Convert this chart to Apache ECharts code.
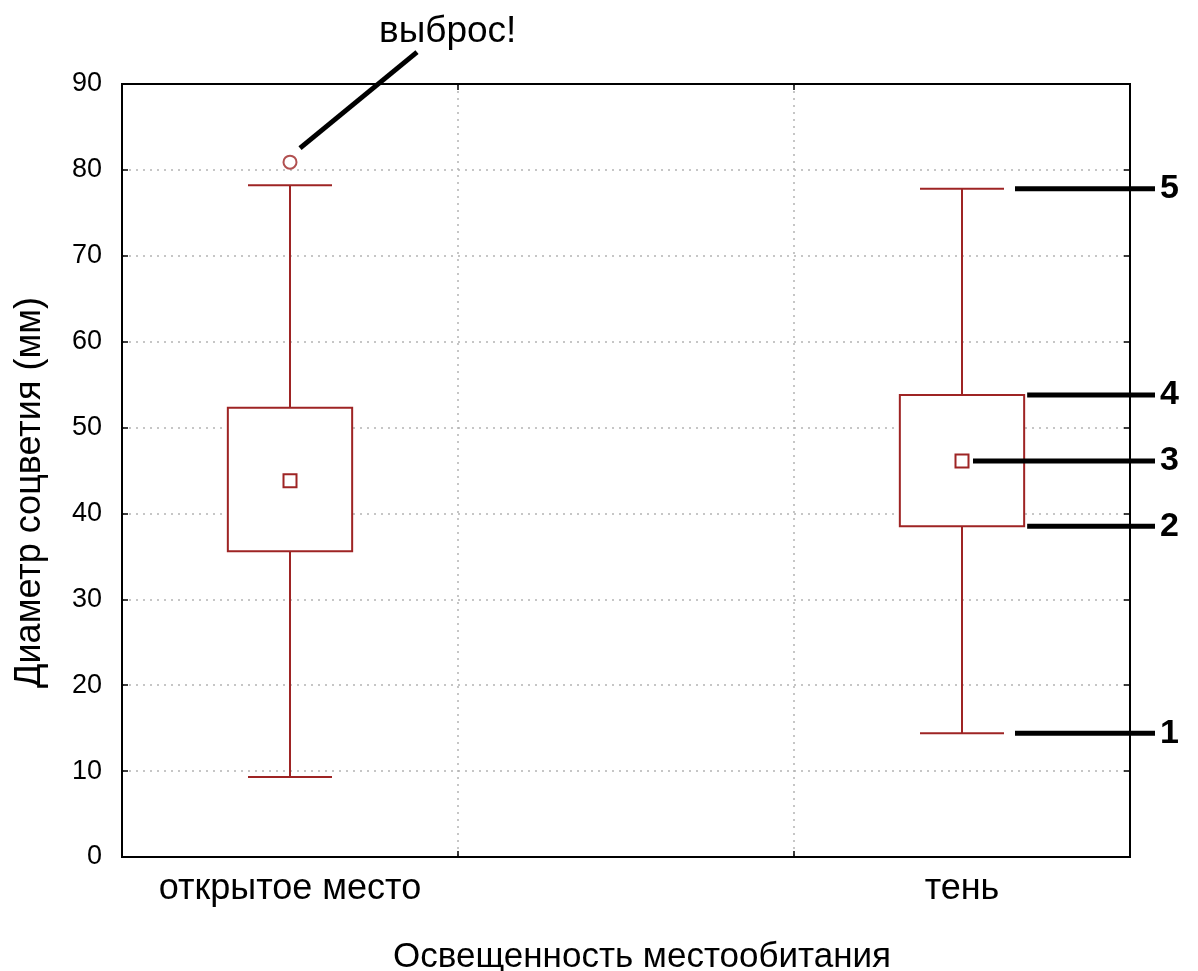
<!DOCTYPE html>
<html><head><meta charset="utf-8">
<script src="https://cdn.jsdelivr.net/npm/echarts@6/dist/echarts.min.js"></script>
<style>html,body{margin:0;padding:0;background:#fff}#c{width:1198px;height:971px}</style>
</head><body><div id="c"></div>
<script>
// ---- data ----
const categories = ['открытое место', '', 'тень'];
const groupIndex = [0, 2];
const whiskerMin = [9.3, 14.4];
const q1 = [35.6, 38.5];
const median = [43.8, 46.1];
const q3 = [52.3, 53.8];
const whiskerMax = [78.2, 77.8];
const outliers = [[0, 80.9]];
const outlierNote = 'выброс!';
const annotationLabels = ['1', '2', '3', '4', '5'];
const yName = 'Диаметр соцветия (мм)';
const xName = 'Освещенность местообитания';
const yMin = 0, yMax = 90, yStep = 10;

// ---- styles ----
const RED = '#9e2424';
const FONT = '"Liberation Sans", Arial, sans-serif';
const GRIDLINE = {color: '#b4b4b4', width: 1.5, type: [2, 5]};

const boxData = groupIndex.map((g, i) => [g, whiskerMin[i], q1[i], median[i], q3[i], whiskerMax[i]]);
const shadeIdx = 1;
const annoValues = [whiskerMin[shadeIdx], q1[shadeIdx], median[shadeIdx], q3[shadeIdx], whiskerMax[shadeIdx]];
const annoKinds = ['whisker', 'box', 'mid', 'box', 'whisker'];
const annoData = annoValues.map((v, i) => [groupIndex[shadeIdx], v, i]);

const chart = echarts.init(document.getElementById('c'), null, {renderer: 'canvas'});

function boxRender(params, api) {
  const x = api.value(0);
  const bw = api.size([1, 0])[0];
  const half = bw * 0.185, cap = bw * 0.125;
  const pMin = api.coord([x, api.value(1)]);
  const pQ1 = api.coord([x, api.value(2)]);
  const pMed = api.coord([x, api.value(3)]);
  const pQ3 = api.coord([x, api.value(4)]);
  const pMax = api.coord([x, api.value(5)]);
  const cx = pMed[0];
  const st = {stroke: RED, lineWidth: 2, fill: null};
  return {type: 'group', children: [
    {type: 'line', shape: {x1: cx, y1: pMax[1], x2: cx, y2: pQ3[1]}, style: st},
    {type: 'line', shape: {x1: cx, y1: pQ1[1], x2: cx, y2: pMin[1]}, style: st},
    {type: 'line', shape: {x1: cx - cap, y1: pMax[1], x2: cx + cap, y2: pMax[1]}, style: st},
    {type: 'line', shape: {x1: cx - cap, y1: pMin[1], x2: cx + cap, y2: pMin[1]}, style: st},
    {type: 'rect', shape: {x: cx - half, y: pQ3[1], width: 2 * half, height: pQ1[1] - pQ3[1]},
      style: {stroke: RED, lineWidth: 2, fill: '#fff'}},
    {type: 'rect', shape: {x: cx - 6.5, y: pMed[1] - 6.5, width: 13, height: 13},
      style: {stroke: RED, lineWidth: 2, fill: '#fff'}}
  ]};
}

function annoRender(params, api) {
  const x = api.value(0);
  const kind = annoKinds[api.value(2)];
  const bw = api.size([1, 0])[0];
  const p = api.coord([x, api.value(1)]);
  let start;
  if (kind === 'whisker') start = p[0] + bw * 0.125 + 11;
  else if (kind === 'box') start = p[0] + bw * 0.185 + 3;
  else start = p[0] + 11;
  const end = params.coordSys.x + params.coordSys.width + 25;
  return {type: 'group', children: [
    {type: 'line', shape: {x1: start, y1: p[1], x2: end, y2: p[1]},
      style: {stroke: '#000', lineWidth: 5}},
    {type: 'text', x: end + 5, y: p[1], style: {
      text: annotationLabels[api.value(2)], font: 'bold 34px ' + FONT,
      fill: '#000', textVerticalAlign: 'middle', textAlign: 'left'}}
  ]};
}

function noteRender(params, api) {
  const p = api.coord([api.value(0), api.value(1)]);
  return {type: 'group', children: [
    {type: 'line', shape: {x1: p[0] + 10, y1: p[1] - 14, x2: p[0] + 127, y2: p[1] - 110},
      style: {stroke: '#000', lineWidth: 5}},
    {type: 'text', x: p[0] + 89, y: p[1] - 130, style: {
      text: outlierNote, font: '37px ' + FONT, fill: '#000',
      textVerticalAlign: 'middle', textAlign: 'left'}}
  ]};
}

const TICK = {show: true, inside: true, length: 6, interval: 0, lineStyle: {color: '#000', width: 1.5}};

const option = {
  animation: false,
  backgroundColor: '#fff',
  grid: {left: 122, right: 68, top: 84, bottom: 114, containLabel: false,
    outerBoundsMode: 'none',
    show: true, borderColor: '#000', borderWidth: 2, backgroundColor: 'transparent'},
  xAxis: [{
    type: 'category', data: categories, boundaryGap: true, position: 'bottom',
    name: xName, nameLocation: 'middle', nameGap: 83,
    nameTextStyle: {fontSize: 35, fontFamily: FONT, color: '#000', padding: [0, 0, 0, 32]},
    axisLine: {show: true, onZero: false, lineStyle: {color: '#000', width: 2}},
    axisTick: TICK,
    axisLabel: {interval: 0, fontSize: 36, fontFamily: FONT, color: '#000', margin: 14},
    splitLine: {show: true, interval: 0, lineStyle: GRIDLINE}
  }, {
    type: 'category', data: categories, boundaryGap: true, position: 'top',
    axisLine: {show: true, onZero: false, lineStyle: {color: '#000', width: 2}},
    axisTick: TICK,
    axisLabel: {show: false, interval: 0}, splitLine: {show: false}
  }],
  yAxis: [{
    type: 'value', min: yMin, max: yMax, interval: yStep,
    name: yName, nameLocation: 'middle', nameGap: 74, nameRotate: 90,
    nameTextStyle: {fontSize: 36, fontFamily: FONT, color: '#000', padding: [0, 44, 0, 0]},
    axisLine: {show: true, lineStyle: {color: '#000', width: 2}},
    axisTick: {show: true, inside: true, length: 6, lineStyle: {color: '#000', width: 1.5}},
    axisLabel: {fontSize: 27, fontFamily: FONT, color: '#000', margin: 20},
    splitLine: {show: true, lineStyle: GRIDLINE}
  }, {
    type: 'value', min: yMin, max: yMax, interval: yStep, position: 'right',
    axisLine: {show: true, lineStyle: {color: '#000', width: 2}},
    axisTick: {show: true, inside: true, length: 6, lineStyle: {color: '#000', width: 1.5}},
    axisLabel: {show: false}, splitLine: {show: false}
  }],
  series: [
    {type: 'custom', renderItem: boxRender, data: boxData, clip: false, z: 3},
    {type: 'scatter', data: outliers, symbol: 'emptyCircle', symbolSize: 13,
      itemStyle: {color: RED, borderColor: RED, borderWidth: 2}, z: 4},
    {type: 'custom', renderItem: annoRender, data: annoData, clip: false, z: 5},
    {type: 'custom', renderItem: noteRender, data: outliers, clip: false, z: 5}
  ]
};
chart.setOption(option);
</script>
</body></html>
